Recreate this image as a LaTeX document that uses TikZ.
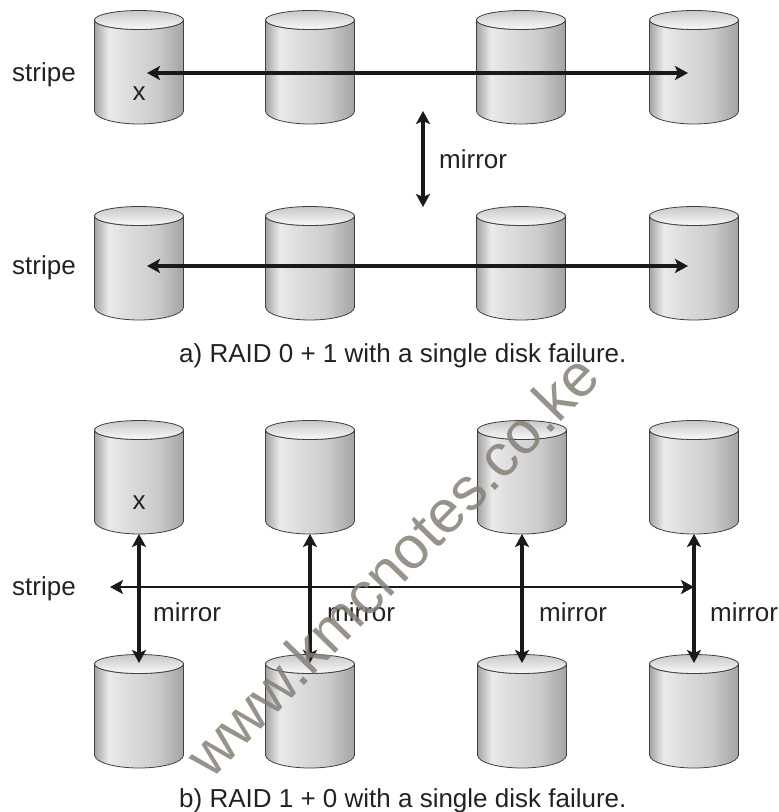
\documentclass[tikz,border=0pt]{standalone}
\usepackage{fontspec}
\setmainfont{Liberation Sans}
\usetikzlibrary{arrows.meta}

\definecolor{inkgray}{HTML}{222222}
\definecolor{markgray}{HTML}{857F76}

\pgfdeclarehorizontalshading{diskbody}{100bp}{%
  color(0bp)=(black!36); color(25bp)=(black!36); color(33bp)=(black!8);
  color(40bp)=(black!12); color(60bp)=(black!20); color(75bp)=(black!36);
  color(100bp)=(black!36)}

\tikzset{
  tag/.style={text=inkgray, font=\fontsize{26}{30}\selectfont, inner sep=0pt, anchor=base west},
  caption/.style={text=inkgray, font=\fontsize{26}{30}\selectfont, inner sep=0pt, anchor=base west},
  link/.style={line width=2.8pt, draw=black!90, {Stealth[length=13pt,width=14pt,inset=3pt]}-{Stealth[length=13pt,width=14pt,inset=3pt]}},
  heavylink/.style={link, line width=3.4pt},
  diskbox/.style={minimum width=89pt, minimum height=114pt, inner sep=0pt, outer sep=0pt}
}

% disk: name, centre x, top y
\newcommand{\disk}[3]{
  \node[diskbox, anchor=north] (#1) at (#2,#3) {};
  \draw[thick, draw=black!75, shading=diskbody, shading angle=0]
    ([xshift=-44.5pt,yshift=-10pt]#1.north) -- ([xshift=-44.5pt,yshift=13pt]#1.south)
    arc[start angle=180, end angle=360, x radius=44.5pt, y radius=13pt]
    -- ([xshift=44.5pt,yshift=-10pt]#1.north)
    arc[start angle=0, end angle=-180, x radius=44.5pt, y radius=9.5pt] -- cycle;
  \draw[thick, draw=black!75, top color=black!22, bottom color=black!2]
    ([yshift=-10pt]#1.north) ellipse (44.5pt and 9.5pt);
}

\begin{document}
\begin{tikzpicture}[x=1pt, y=-1pt]

        \useasboundingbox (0,0) rectangle (779,812);
        \clip (0,0) rectangle (779,812);

        % Disks of RAID 0 + 1
        \disk{ua}{139}{10} \disk{ub}{310}{10} \disk{uc}{521}{10} \disk{ud}{694}{10}
        \disk{va}{139}{206} \disk{vb}{310}{206} \disk{vc}{521}{206} \disk{vd}{694}{206}

        % Disks of RAID 1 + 0
        \disk{wa}{139}{420} \disk{wb}{310}{420} \disk{wc}{522}{420} \disk{wd}{694}{420}
        \disk{za}{139}{654} \disk{zb}{310}{654} \disk{zc}{522}{654} \disk{zd}{694}{654}

        % Stripes
        \coordinate (ul) at (147,73);
        \coordinate (ur) at (688,73);
        \coordinate (vl) at (147,266);
        \coordinate (vr) at (688,266);
        \coordinate (wl) at (110,587);
        \coordinate (wr) at (694,587);
        \draw[heavylink] (ul) -- (ur);
        \draw[heavylink] (vl) -- (vr);
        \draw[link] (wl) -- (wr);

        \node[tag] (sa) at (12,81) {stripe};
        \node[tag] (sb) at (12,274) {stripe};
        \node[tag] (sc) at (12,595) {stripe};

        % Failed disk marks
        \node[tag, anchor=base] (xa) at (139,100) {x};
        \node[tag, anchor=base] (xb) at (139,509) {x};

        % Mirror of the top pair
        \coordinate (mt) at (423,111);
        \coordinate (mb) at (423,207);
        \draw[heavylink] (mt) -- (mb);
        \node[tag] (ma) at (439,168) {mirror};

        % Mirrors of RAID 1 + 0
        \draw[heavylink] (wa.south) -- ([yshift=-9pt]za.north);
        \draw[heavylink] (wb.south) -- ([yshift=-9pt]zb.north);
        \draw[heavylink] (wc.south) -- ([yshift=-9pt]zc.north);
        \draw[heavylink] (wd.south) -- ([yshift=-9pt]zd.north);

        \node[tag] (na) at (153,621) {mirror};
        \node[tag] (nb) at (327,621) {mirror};
        \node[tag] (nc) at (539,621) {mirror};
        \node[tag] (nd) at (710,621) {mirror};

        % Captions
        \node[caption] (ca) at (179,362) {a) RAID 0 + 1 with a single disk failure.};
        \node[caption] (cb) at (179,807) {b) RAID 1 + 0 with a single disk failure.};

        % Watermark
        \node[text=markgray, opacity=0.85, rotate=45.7, font=\fontsize{60}{70}\selectfont, inner sep=0pt] (wm) at (392,565) {www.kmcnotes.co.ke};

\end{tikzpicture}
\end{document}
